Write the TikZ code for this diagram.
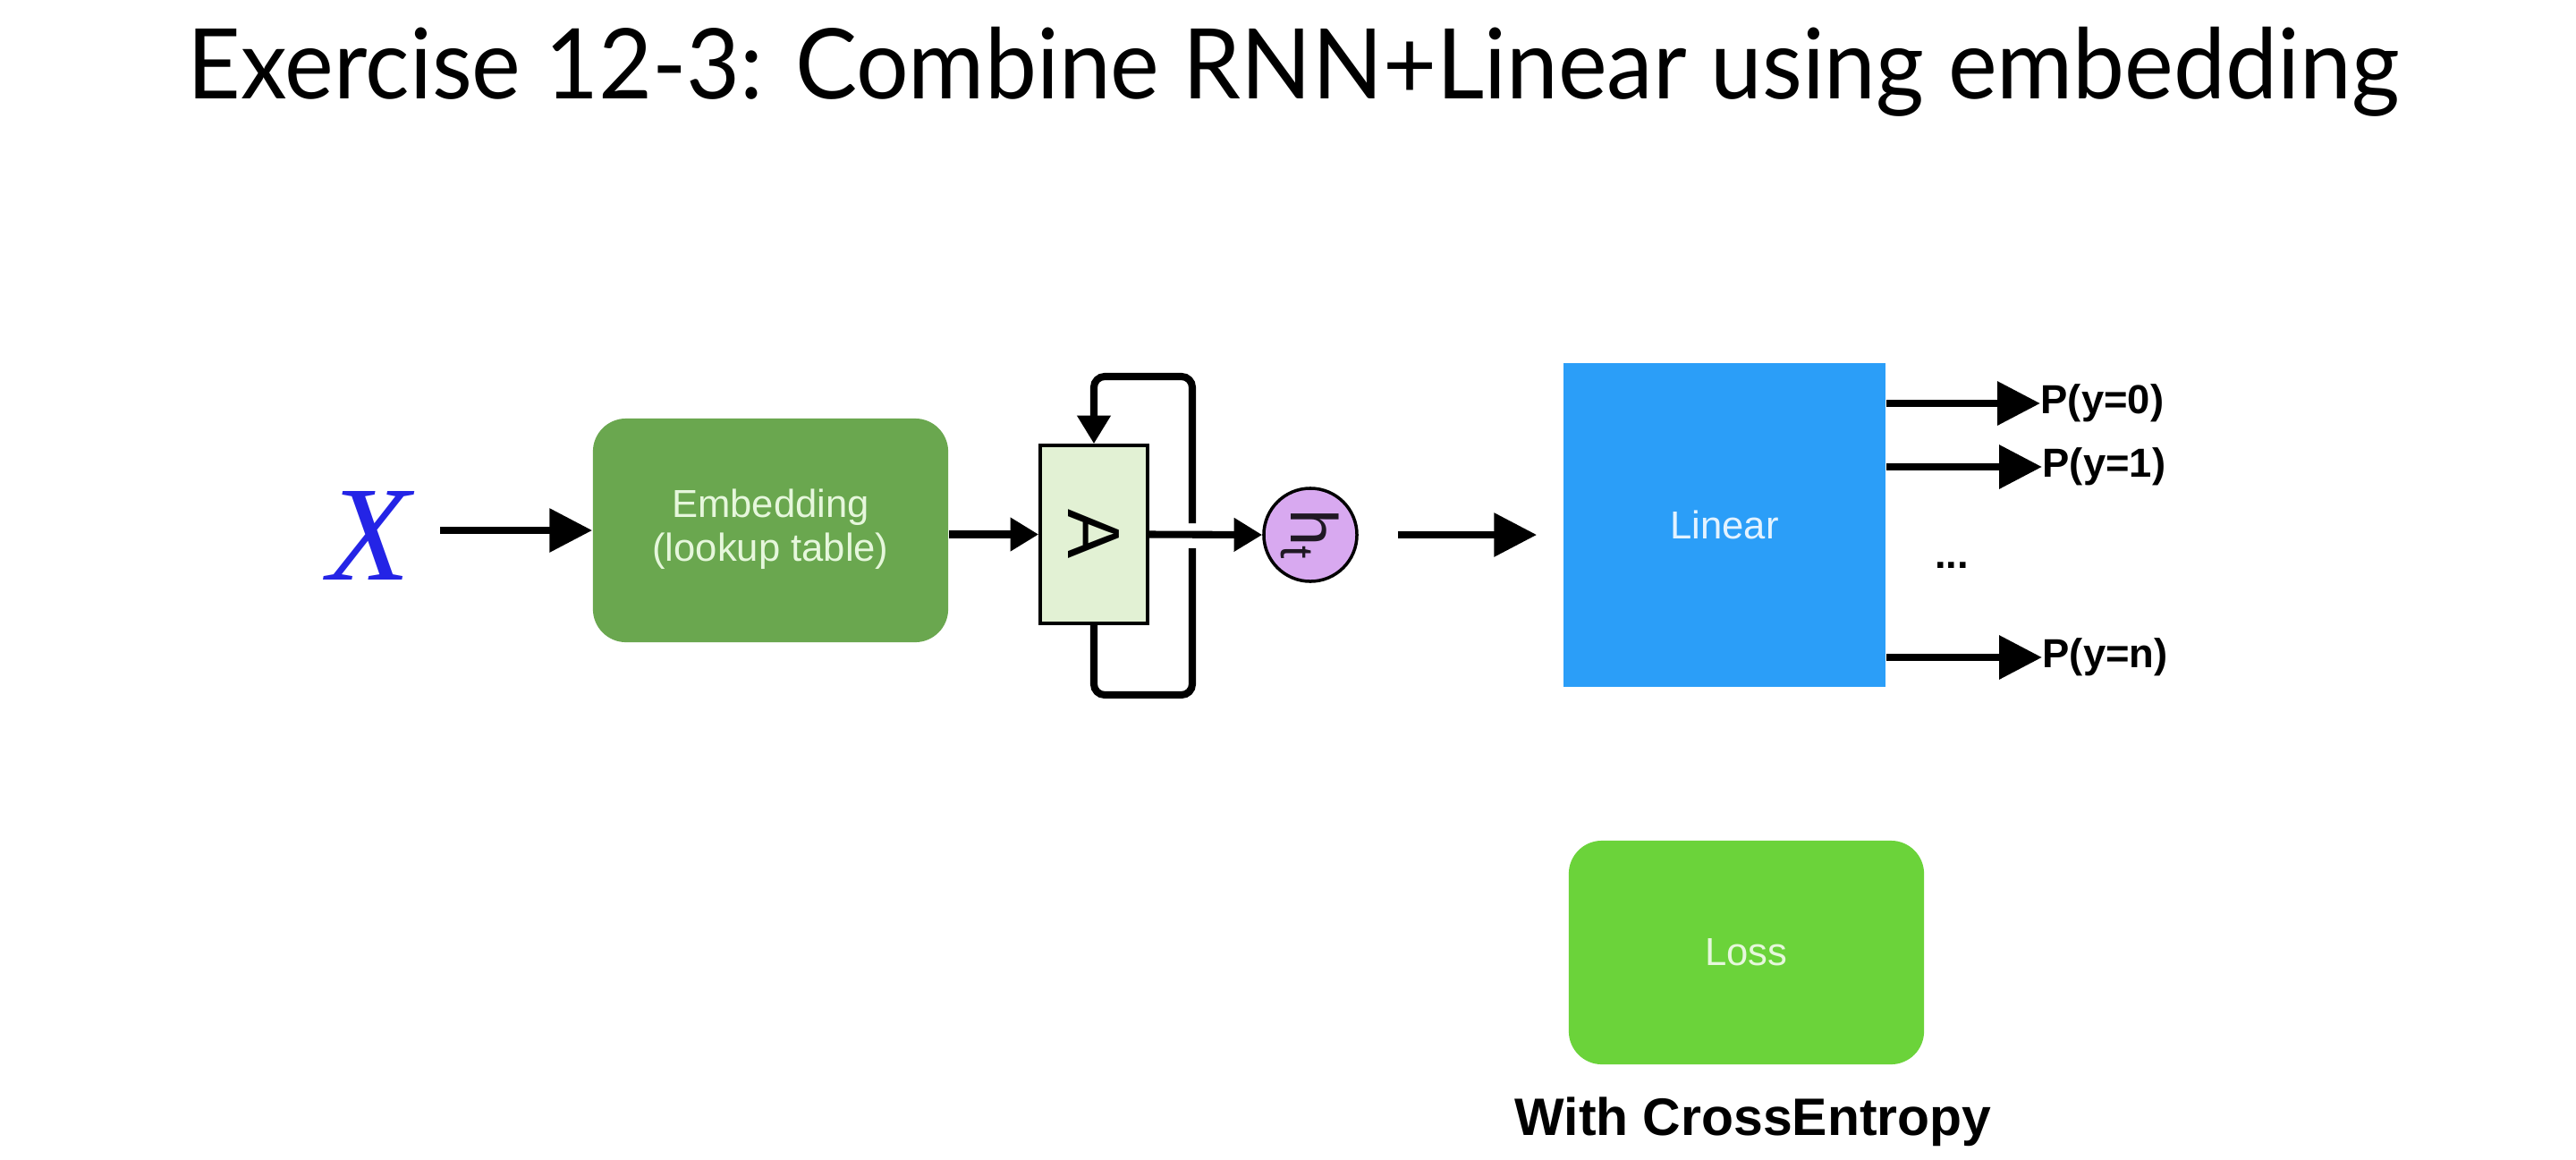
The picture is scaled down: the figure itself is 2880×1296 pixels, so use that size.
\documentclass[tikz,border=0pt]{standalone}
\usepackage{fontspec}
\setmainfont{Liberation Sans}
\newfontfamily\titlefont{Lato}
\newfontfamily\xserif{Liberation Serif}
\usetikzlibrary{arrows.meta}
\definecolor{embgreen}{HTML}{6AA74F}
\definecolor{embtext}{HTML}{E6F7DC}
\definecolor{cellfill}{HTML}{E2F1D4}
\definecolor{htfill}{HTML}{D8A9F0}
\definecolor{linblue}{HTML}{2B9EF8}
\definecolor{lintext}{HTML}{E4F3FF}
\definecolor{lossgreen}{HTML}{6BD33A}
\definecolor{xblue}{HTML}{2424E6}
\begin{document}
\begin{tikzpicture}[x=0.01cm,y=-0.01cm,
  bigarrow/.style={line width=2.5pt,-{Triangle[length=13.6pt,width=13.4pt]}},
  smallarrow/.style={line width=2.3pt,-{Triangle[length=9pt,width=10.2pt]}},
  loopline/.style={line width=2.3pt,rounded corners=0.12cm},
  boxtext/.style={font=\fontsize{12.4}{14.2}\selectfont},
  plabel/.style={anchor=west,inner sep=0pt,font=\fontsize{12.9}{15}\selectfont\bfseries},
  roundbox/.style={rounded corners=0.37cm,minimum width=3.97cm,minimum height=2.5cm,text=embtext,align=center,boxtext}]
\useasboundingbox[fill=white] (0,0) rectangle (2880,1296);

\node[anchor=base,inner sep=0pt,font=\titlefont\fontsize{31}{36}\selectfont] (title) at (1446,110) {\scalebox{0.95}[1]{Exercise 12-3: Combine RNN+Linear using embedding}};

\node[inner sep=0pt,text=xblue,font=\xserif\itshape\fontsize{43}{48}\selectfont] (x) at (413,599) {X};

\node[roundbox,fill=embgreen] (emb) at (861.5,593) {\raisebox{-0.1cm}{\begin{tabular}{@{}c@{}}Embedding\\(lookup table)\end{tabular}}};

\node[draw=black,line width=1pt,fill=cellfill,minimum width=1.2cm,minimum height=1.99cm,inner sep=0pt,font=\fontsize{23.5}{28}\selectfont] (a) at (1223,597.5) {\rotatebox{-90}{A}};

\node[circle,draw=black,line width=1pt,fill=htfill,minimum size=1.04cm,inner sep=0pt,font=\fontsize{21}{24}\selectfont,text=black!85!htfill] (h) at (1465,598) {\rotatebox{-90}{h\textsubscript{t}}};

\node[fill=linblue,minimum width=3.6cm,minimum height=3.62cm,text=lintext,boxtext] (lin) at (1928,587) {Linear};

\node[plabel] (p0) at (2281,451) {P(y=0)};
\node[plabel] (p1) at (2283,522) {P(y=1)};
\node[plabel] (pn) at (2283,735) {P(y=n)};
\node[inner sep=0pt,font=\fontsize{12.9}{15}\selectfont\bfseries] (dots) at (2182,632) {...};

\node[roundbox,fill=lossgreen] (loss) at (1952.5,1065) {Loss};
\node[anchor=base,inner sep=0pt,font=\fontsize{16.75}{20}\selectfont\bfseries] (ce) at (1960,1269) {With CrossEntropy};

\draw[bigarrow,shorten <=0.32cm] (x.east |- emb.west) -- (emb.west);
\draw[smallarrow] (emb.east |- a.west) -- (a.west);
\draw[smallarrow] (a.east) -- (h.west);
\draw[bigarrow,shorten <=0.44cm,shorten >=0.29cm] (h.east) -- (lin.west |- h.east);
\draw[bigarrow] (lin.east |- p0.west) -- (p0.west);
\draw[bigarrow] (lin.east |- p1.west) -- (p1.west);
\draw[bigarrow] (lin.east |- pn.west) -- (pn.west);

\coordinate (lbr) at (1333,777);
\coordinate (ltr) at (1333,421);
\coordinate (gaplo) at (1333,613);
\coordinate (gaphi) at (1333,585);
\draw[loopline] (a.south) -- (a.south |- lbr) -- (lbr) -- (gaplo);
\draw[loopline,-{Triangle[length=9pt,width=10.2pt]}] (gaphi) -- (ltr) -- (a.north |- ltr) -- (a.north);
\end{tikzpicture}
\end{document}
